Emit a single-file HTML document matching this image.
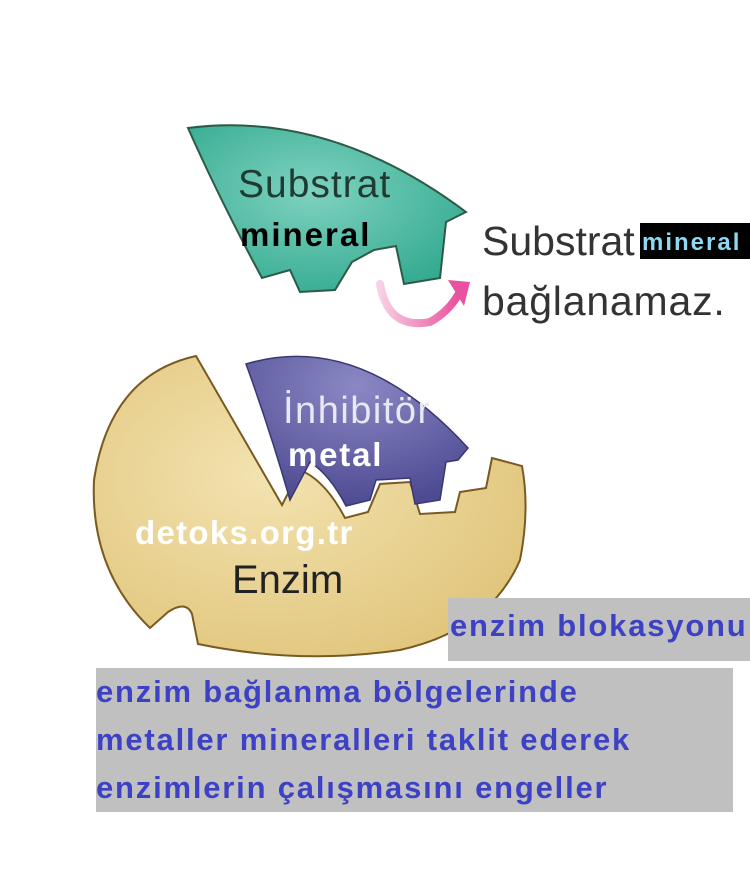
<!DOCTYPE html>
<html><head><meta charset="utf-8"><style>
body{margin:0;width:750px;height:882px;background:#fff;position:relative;overflow:hidden;font-family:"Liberation Sans",sans-serif}
.a{position:absolute;white-space:nowrap}
.b{font-family:"Liberation Sans",sans-serif;font-weight:bold}
</style></head><body>
<svg width="750" height="882" style="position:absolute;left:0;top:0">
<defs>
<radialGradient id="g1" cx="0.45" cy="0.4" r="0.7"><stop offset="0" stop-color="#7fd2bf"/><stop offset="1" stop-color="#2fa88e"/></radialGradient>
<radialGradient id="g2" cx="0.4" cy="0.4" r="0.7"><stop offset="0" stop-color="#f3e3b0"/><stop offset="1" stop-color="#e0c47a"/></radialGradient>
<radialGradient id="g3" cx="0.5" cy="0.2" r="0.8"><stop offset="0" stop-color="#8a88c4"/><stop offset="1" stop-color="#4d4a92"/></radialGradient>
<linearGradient id="g4" x1="0" y1="0" x2="1" y2="0"><stop offset="0" stop-color="#f8d0e4"/><stop offset="1" stop-color="#e9529f"/></linearGradient>
</defs>
<path d="M188,128 Q330,110 466,212 L446,222 L440,278 L404,284 L396,246 L374,250 L352,262 L335,290 L300,292 L290,270 L262,278 Q220,200 188,128 Z" fill="url(#g1)" stroke="#2d5a44" stroke-width="2"/>
<path d="M196,356 Q110,375 94,480 Q90,570 150,628 L168,612 Q186,600 192,614 L198,644 Q300,665 400,650 Q490,630 520,560 Q530,510 522,466 L492,458 L486,488 L460,492 L455,512 L420,514 L410,482 L380,484 L368,512 L345,518 Q325,480 300,470 L282,505 Z" fill="url(#g2)" stroke="#7a5a20" stroke-width="2"/>
<path d="M246,364 Q360,330 468,448 L458,460 L446,462 L440,500 L415,504 L410,478 L376,480 L370,500 L346,506 Q330,475 310,462 L290,500 Q270,430 246,364 Z" fill="url(#g3)" stroke="#3a3870" stroke-width="1.5"/>
<path d="M380,284 Q388,330 430,322 Q448,312 458,295" fill="none" stroke="url(#g4)" stroke-width="8" stroke-linecap="round"/>
<polygon points="448,280 470,282 464,306" fill="#e9529f"/>
</svg>
<div class="a" style="left:238px;top:163px;font-size:39px;color:#1e3c32;letter-spacing:1px">Substrat</div>
<div class="a b" style="left:240px;top:216px;font-size:33px;color:#000;letter-spacing:2px">mineral</div>
<div class="a" style="left:482px;top:218px;font-size:41px;color:#333;letter-spacing:0px">Substrat</div>
<div class="a b" style="left:640px;top:223px;width:108px;height:36px;background:#000;color:#8fd8f2;font-size:24px;line-height:40px;padding-left:2px;letter-spacing:2px;overflow:hidden">mineral</div>
<div class="a" style="left:482px;top:278px;font-size:41px;color:#333;letter-spacing:0.8px">bağlanamaz.</div>
<div class="a" style="left:283px;top:390px;font-size:38px;color:#e8e8f4;letter-spacing:1.5px">İnhibitör</div>
<div class="a b" style="left:288px;top:436px;font-size:33px;color:#fff;letter-spacing:1.8px">metal</div>
<div class="a b" style="left:135px;top:514px;font-size:33px;color:#fff;letter-spacing:1.3px">detoks.org.tr</div>
<div class="a" style="left:232px;top:558px;font-size:40px;color:#222">Enzim</div>
<div class="a b" style="left:448px;top:598px;width:302px;height:63px;background:#c0c0c0;color:#3d42c4;font-size:31px;line-height:56px;padding-left:2px;letter-spacing:1.8px;overflow:hidden">enzim blokasyonu</div>
<div class="a b" style="left:96px;top:668px;width:637px;height:144px;background:#c0c0c0;color:#3d42c4;font-size:31px;line-height:48px;white-space:normal;letter-spacing:1.8px">enzim bağlanma bölgelerinde<br>metaller mineralleri taklit ederek<br>enzimlerin çalışmasını engeller</div>
</body></html>
